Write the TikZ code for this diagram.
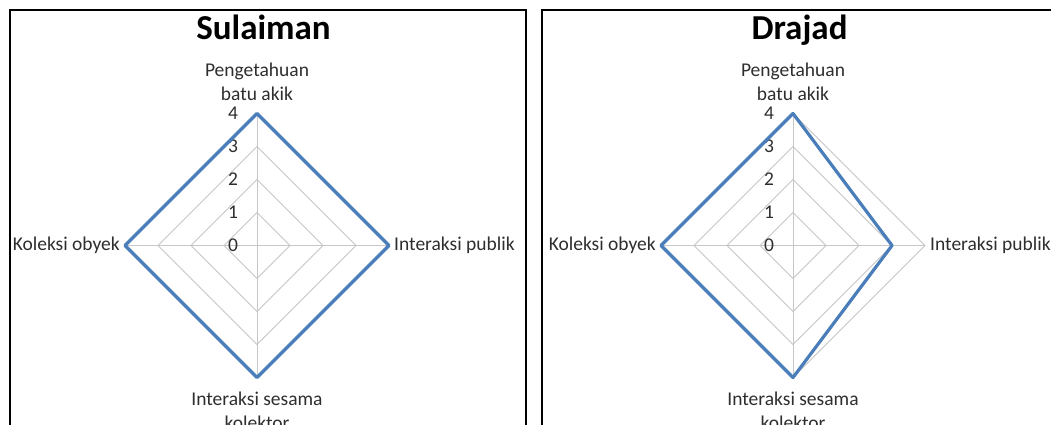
\documentclass[tikz,border=0pt]{standalone}
\usepackage{fontspec}
\setmainfont{Carlito}
\usepackage{tikz}

\definecolor{serie}{RGB}{74,126,187}

\begin{document}
\begin{tikzpicture}[x=1pt,y=-1pt,
	grid/.style={black!22,line width=0.9pt},
	serieline/.style={serie,line width=3.2pt,line join=round},
	lbl/.style={text=black!82,font=\fontsize{19.5}{24}\selectfont,align=center,inner sep=0pt},
	num/.style={text=black!82,font=\fontsize{19.5}{24}\selectfont,inner sep=0pt},
	judul/.style={font=\fontsize{35}{40}\selectfont\bfseries,inner sep=0pt},
	bingkai/.style={black,line width=1.6pt}]
		\useasboundingbox (0,0) rectangle (1051,425);
		\clip (0,0) rectangle (1051,425);
		\fill[white] (0,0) rectangle (1051,425);
		% bingkai kedua grafik
		\draw[bingkai] (10,440) -- (10,10) -- (526,10) -- (526,440);
		\draw[bingkai] (542,440) -- (542,10) -- (1070,10);
		\foreach \i/\cx/\nama/\a/\b/\c/\d in {1/257/Sulaiman/4/4/4/4,2/793/Drajad/4/3/4/4} {
			\node[judul,anchor=base] (judul\i) at (\cx+6.5,39.3) {\nama};
			\begin{scope}[shift={(\cx,245.5)}]
				\foreach \r in {1,2,3,4} {
					\draw[grid] (0,-33*\r) -- (33*\r,0) -- (0,33*\r) -- (-33*\r,0) -- cycle;
				}
				\draw[grid] (0,-132) -- (0,132);
				\draw[grid] (-132,0) -- (132,0);
				\foreach \r in {0,1,2,3,4} {
					\node[num] at (-24,-33*\r) {\r};
				}
				\draw[serieline] (0,-33*\a) -- (33*\b,0) -- (0,33*\c) -- (-33*\d,0) -- cycle;
				\node[lbl,anchor=south] (atas\i) at (0,-144.7) {Pengetahuan\\batu akik};
				\node[lbl,anchor=west] (kanan\i) at (137,0) {Interaksi publik};
				\node[lbl,anchor=north] (bawah\i) at (0,146) {Interaksi sesama\\kolektor};
				\node[lbl,anchor=east] (kiri\i) at (-137,0) {Koleksi obyek};
			\end{scope}
		}
\end{tikzpicture}
\end{document}
